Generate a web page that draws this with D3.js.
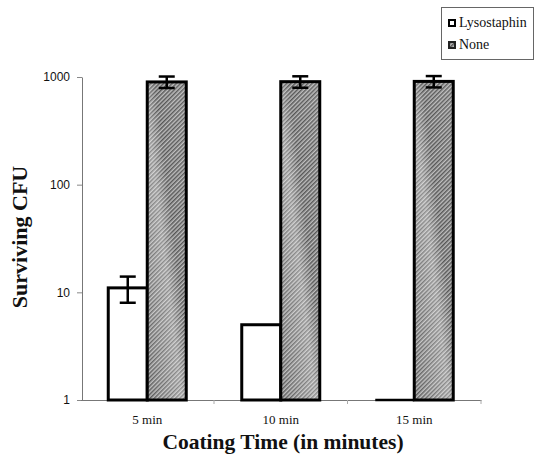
<!DOCTYPE html>
<html><head><meta charset="utf-8">
<script src="https://cdn.jsdelivr.net/npm/d3@7"></script>
<style>body{margin:0;background:#fff}
.serif{font-family:"Liberation Serif","Times New Roman",serif}
.sans{font-family:"Liberation Sans",Arial,sans-serif}
</style>
</head><body>
<script>
const categories = ["5 min", "10 min", "15 min"];
const seriesNames = ["Lysostaphin", "None"];
const lysostaphin = [11, 5, 1];
const lysostaphinErr = [3, 0, 0];
const none = [900, 905, 910];
const noneErr = [110, 110, 110];
const yTicks = [1, 10, 100, 1000];

const W = 535, H = 466;
const svg = d3.select("body").append("svg").attr("width", W).attr("height", H);
const defs = svg.append("defs");
const pat = defs.append("pattern").attr("id", "hatch").attr("patternUnits", "userSpaceOnUse")
  .attr("width", 3).attr("height", 3).attr("patternTransform", "rotate(45)");
pat.append("rect").attr("width", 3).attr("height", 3).attr("fill", "#bdbdbd");
pat.append("rect").attr("width", 1.5).attr("height", 3).attr("fill", "#555");
const grad = defs.append("linearGradient").attr("id", "sheen").attr("x1", 0).attr("y1", 1).attr("x2", 1).attr("y2", 0);
grad.append("stop").attr("offset", "0%").attr("stop-color", "#fff").attr("stop-opacity", 0);
grad.append("stop").attr("offset", "45%").attr("stop-color", "#fff").attr("stop-opacity", 0.35);
grad.append("stop").attr("offset", "60%").attr("stop-color", "#fff").attr("stop-opacity", 0);
grad.append("stop").attr("offset", "100%").attr("stop-color", "#fff").attr("stop-opacity", 0.1);

const x0 = d3.scaleBand().domain(categories).range([80.5, 481]);
const x1 = d3.scaleBand().domain(seriesNames).range([0, 78]);
const y = d3.scaleLog().domain([1, 1000]).range([400, 77]);

// axes
const yAxis = svg.append("g").attr("transform", "translate(82,0)")
  .call(d3.axisLeft(y).tickValues(yTicks).tickFormat(d3.format("d")).tickSize(5).tickSizeOuter(0));
yAxis.attr("font-family", null).attr("font-size", null);
yAxis.select(".domain").attr("stroke", "#777").attr("stroke-width", 1);
yAxis.selectAll(".tick line").attr("stroke", "#888");
yAxis.selectAll("text").attr("class", "sans").style("font-size", "12px").attr("fill", "#111").attr("x", -12);

const xAxis = svg.append("g").attr("transform", "translate(0,400)")
  .call(d3.axisBottom(x0).tickSize(4).tickSizeOuter(0));
xAxis.attr("font-family", null).attr("font-size", null);
xAxis.select(".domain").attr("stroke", "#777");
xAxis.selectAll(".tick line").attr("stroke", "#aaa")
  .attr("transform", () => "translate(" + (x0.bandwidth() / 2) + ",0)");
xAxis.selectAll("text").attr("class", "serif").style("font-size", "13px").attr("fill", "#111").attr("y", 15);

const g = svg.append("g");
const center = c => x0(c) + x0.bandwidth() / 2 - 39;

function errBar(cx, v, e) {
  const yu = y(v + e), yl = y(v - e);
  g.append("line").attr("x1", cx).attr("x2", cx).attr("y1", yu).attr("y2", yl).attr("stroke", "#000").attr("stroke-width", 2.5);
  g.append("line").attr("x1", cx - 8).attr("x2", cx + 8).attr("y1", yu).attr("y2", yu).attr("stroke", "#000").attr("stroke-width", 2.5);
  g.append("line").attr("x1", cx - 8).attr("x2", cx + 8).attr("y1", yl).attr("y2", yl).attr("stroke", "#000").attr("stroke-width", 2.5);
}

// Lysostaphin bars
categories.forEach((c, i) => {
  const xl = center(c) + x1("Lysostaphin");
  const v = lysostaphin[i];
  const top = y(v);
  if (y(1) - top > 0) {
    g.append("rect").attr("x", xl).attr("y", top).attr("width", x1.bandwidth()).attr("height", y(1) - top)
      .attr("fill", "#fff").attr("stroke", "#000").attr("stroke-width", 3);
  } else {
    g.append("line").attr("x1", xl).attr("x2", xl + x1.bandwidth()).attr("y1", top).attr("y2", top)
      .attr("stroke", "#000").attr("stroke-width", 2.5);
  }
  if (lysostaphinErr[i] > 0) errBar(xl + x1.bandwidth() / 2, v, lysostaphinErr[i]);
});
// None bars
categories.forEach((c, i) => {
  const xl = center(c) + x1("None");
  const v = none[i];
  const top = y(v);
  g.append("rect").attr("x", xl).attr("y", top).attr("width", x1.bandwidth()).attr("height", y(1) - top)
    .attr("fill", "url(#hatch)");
  g.append("rect").attr("x", xl).attr("y", top).attr("width", x1.bandwidth()).attr("height", y(1) - top)
    .attr("fill", "url(#sheen)").attr("stroke", "#000").attr("stroke-width", 3);
  errBar(xl + x1.bandwidth() / 2, v, noneErr[i]);
});

// axis titles
svg.append("text").attr("class", "serif").attr("transform", "translate(27,237) rotate(-90)").attr("text-anchor", "middle")
  .style("font-weight", "bold").style("font-size", "22px")
  .attr("fill", "#111").text("Surviving CFU");
svg.append("text").attr("class", "serif").attr("x", 283).attr("y", 449).attr("text-anchor", "middle")
  .style("font-weight", "bold").style("font-size", "21.5px")
  .attr("fill", "#111").text("Coating Time (in minutes)");

// legend
const lg = svg.append("g");
lg.append("rect").attr("x", 441.5).attr("y", 7.5).attr("width", 92).attr("height", 52)
  .attr("fill", "#fff").attr("stroke", "#666").attr("stroke-width", 1);
seriesNames.forEach((s, i) => {
  const yy = 27 + i * 22;
  if (s === "None") {
    lg.append("rect").attr("x", 448).attr("y", yy - 8).attr("width", 8).attr("height", 8).attr("fill", "#222");
    lg.append("rect").attr("x", 450).attr("y", yy - 6).attr("width", 4).attr("height", 4).attr("fill", "url(#hatch)");
  } else {
    lg.append("rect").attr("x", 449).attr("y", yy - 7).attr("width", 6).attr("height", 6).attr("fill", "#fff").attr("stroke", "#000").attr("stroke-width", 2);
  }
  lg.append("text").attr("class", "serif").attr("x", 459).attr("y", yy)
    .style("font-size", "14px").attr("fill", "#111").text(s);
});
</script>
</body></html>
